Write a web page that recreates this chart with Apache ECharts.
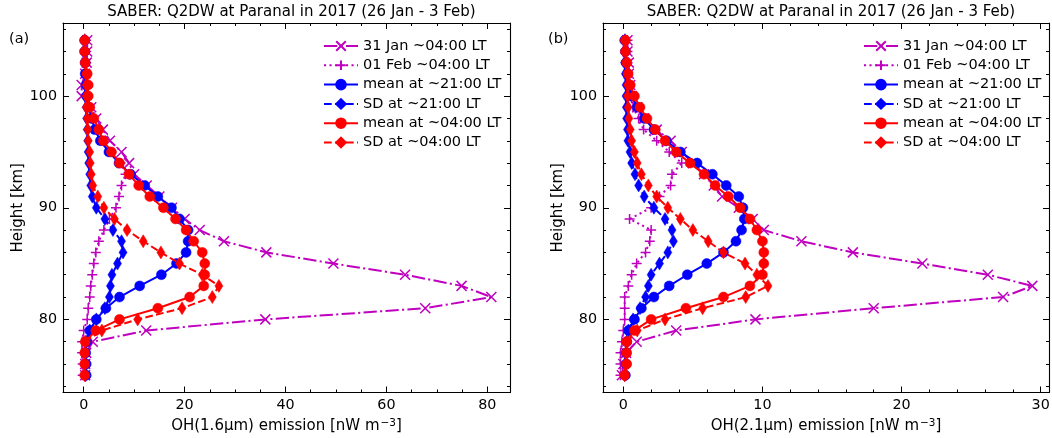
<!DOCTYPE html>
<html><head><meta charset="utf-8">
<script src="https://cdn.jsdelivr.net/npm/echarts@6/dist/echarts.min.js"></script>
<style>html,body{margin:0;padding:0;background:#fff;width:1052px;height:438px;overflow:hidden}#c{position:absolute;left:0;top:0;width:1052px;height:438px}</style>
</head><body><div id="c"></div>
<script>
const heights = [75,76,77,78,79,80,81,82,83,84,85,86,87,88,89,90,91,92,93,94,95,96,97,98,99,100,101,102,103,104,105];

// Panel (a) OH(1.6um)
const aJan31  = [0.3,0.3,0.5,1.8,12.4,36.0,67.7,80.8,74.9,63.7,49.5,36.2,27.8,23.0,20.0,17.5,15.0,12.5,10.0,9.0,7.5,5.2,3.8,2.5,1.5,-0.4,-0.4,0.3,0.6,0.7,0.7];
const aFeb01  = [-0.2,-0.2,-0.3,-0.3,0.0,0.7,0.9,1.2,1.4,1.7,2.0,2.4,3.0,4.0,5.1,6.4,7.0,7.5,8.3,7.3,5.5,3.6,2.5,1.8,1.2,0.8,0.6,0.5,0.5,0.5,0.5];
const aMean21 = [0.5,0.5,0.4,0.6,1.2,2.5,4.4,7.1,11.1,15.4,18.4,20.3,20.7,20.7,19.0,17.4,14.7,12.1,9.3,7.0,5.0,3.3,2.2,1.6,1.0,0.6,0.5,0.3,0.3,0.2,0.2];
const aSD21   = [0.4,0.4,0.4,0.5,1.2,2.5,4.2,5.1,5.3,5.6,6.7,7.8,7.5,5.8,4.2,2.5,1.7,1.4,1.2,1.0,0.9,0.8,0.7,0.6,0.5,0.3,0.3,0.3,0.2,0.2,0.2];
const aMean04 = [0.2,0.2,0.2,0.3,2.4,7.1,14.7,21.0,23.8,24.0,24.0,23.5,21.8,20.3,18.2,15.8,13.1,10.9,9.0,7.1,5.5,3.9,3.0,2.0,1.2,0.9,0.9,0.7,0.3,0.2,0.2];
const aSD04   = [0.2,0.2,0.2,0.3,3.6,10.7,19.5,25.5,26.8,23.5,19.0,15.3,11.8,8.6,6.1,4.0,2.8,1.8,1.5,1.3,1.2,0.9,0.8,0.7,0.5,0.5,0.5,0.4,0.3,0.2,0.2];

// Panel (b) OH(2.1um)
const bJan31  = [-0.1,0.0,0.2,0.96,3.8,9.5,18.0,27.3,29.4,26.2,21.5,16.5,12.8,10.1,9.3,8.3,7.1,6.5,5.8,5.0,4.2,3.4,2.4,1.5,1.0,0.6,0.5,0.4,0.4,0.3,0.3];
const bFeb01  = [-0.2,-0.2,-0.2,-0.1,0.0,0.1,0.1,0.1,0.36,0.6,0.96,1.6,1.9,2.0,0.45,2.0,2.6,3.4,3.5,4.2,3.3,2.4,1.46,1.1,0.7,0.5,0.4,0.3,0.3,0.3,0.3];
const bMean21 = [0.15,0.2,0.2,0.25,0.36,0.8,1.3,2.2,3.3,4.6,6.0,7.2,8.1,8.5,8.7,8.6,8.3,7.4,6.4,5.3,4.1,3.1,2.2,1.5,1.0,0.6,0.4,0.3,0.2,0.15,0.1];
const bSD21   = [0.1,0.15,0.2,0.25,0.36,0.7,1.2,1.6,1.8,2.0,2.6,3.2,3.6,3.5,3.0,2.2,1.5,1.1,0.84,0.6,0.48,0.33,0.3,0.24,0.22,0.2,0.2,0.15,0.1,0.1,0.1];
const bMean04 = [0.1,0.24,0.24,0.24,0.8,2.0,4.5,7.2,9.1,10.0,10.1,10.1,10.0,9.6,9.1,8.4,7.55,6.6,5.8,4.8,3.8,3.0,2.3,1.7,1.2,0.8,0.5,0.35,0.25,0.15,0.15];
const bSD04   = [0.1,0.2,0.2,0.3,1.0,3.0,5.7,8.8,10.4,9.6,8.75,7.2,6.1,5.0,4.1,3.2,2.4,1.8,1.3,1.0,0.8,0.6,0.5,0.4,0.35,0.3,0.3,0.25,0.2,0.15,0.15];

const seriesNames = ['31 Jan ~04:00 LT','01 Feb ~04:00 LT','mean at ~21:00 LT','SD at ~21:00 LT','mean at ~04:00 LT','SD at ~04:00 LT'];
const titleText = 'SABER: Q2DW at Paranal in 2017 (26 Jan - 3 Feb)';
const panelLabels = ['(a)','(b)'];
const xNames = ['OH(1.6\u00b5m) emission [nW m{sup|\u22123}]','OH(2.1\u00b5m) emission [nW m{sup|\u22123}]'];
const yName = 'Height [km]';

const yMajor = [80,90,100];
const yMinor = [74,76,78,82,84,86,88,92,94,96,98,102,104,106];
const aXMajor = [0,20,40,60,80];
const aXMinor = [5,10,15,25,30,35,45,50,55,65,70,75];
const bXMajor = [0,10,20,30];
const bXMinor = [2,4,6,8,12,14,16,18,22,24,26,28];

const M = '#bf00bf', B = '#0000ff', R = '#ff0000';
const FONT = 'DejaVu Sans';
const lw = 2;

const rects = [
  {left:63, top:23, width:447, height:369.5},
  {left:603, top:23, width:446, height:369.5}
];
const xRanges = [[-4.1,84.5],[-1.46,30.6]];
const yRange = [73.45,106.55];
const xTicks = [[aXMajor,aXMinor],[bXMajor,bXMinor]];

// two grids per panel: main (major ticks, data) and overlay (minor ticks)
const grids = [];
rects.forEach(r => {
  for (let k=0;k<2;k++) grids.push(Object.assign({containLabel:false, outerBoundsMode:'none'}, r));
});

const xAxes = [], yAxes = [];
const lineAx = {show:true, onZero:false, lineStyle:{color:'#000', width:1.1}};
const noLine = {show:false, onZero:false};
const tick = (vals, len) => ({show:true, inside:true, length:len, customValues:vals, lineStyle:{color:'#000', width:1}});
const txt = {color:'#000', fontFamily:FONT, fontSize:14.3};
const nameTxt = {color:'#000', fontFamily:FONT, fontSize:15, lineHeight:18,
  rich:{sup:{fontFamily:FONT, fontSize:10.5, color:'#000', verticalAlign:'top', lineHeight:18, padding:[0,0,7,1]}}};
for (let g=0; g<2; g++){
  const [mn,mx] = xRanges[g];
  const [maj,mnr] = xTicks[g];
  const gm = 2*g, go = 2*g+1;
  const xb = (gi) => ({type:'value', gridIndex:gi, min:mn, max:mx, splitLine:{show:false}});
  xAxes.push(Object.assign(xb(gm), {position:'bottom', axisLine:lineAx, axisTick:tick(maj,6),
    axisLabel:Object.assign({show:true, customValues:maj, margin:6}, txt),
    name:xNames[g], nameLocation:'middle', nameGap:24, nameTextStyle:nameTxt}));
  xAxes.push(Object.assign(xb(gm), {position:'top', axisLine:lineAx, axisTick:tick(maj,6), axisLabel:{show:false}}));
  xAxes.push(Object.assign(xb(go), {position:'bottom', axisLine:noLine, axisTick:tick(mnr,3), axisLabel:{show:false}}));
  xAxes.push(Object.assign(xb(go), {position:'top', axisLine:noLine, axisTick:tick(mnr,3), axisLabel:{show:false}}));

  const yb = (gi) => ({type:'value', gridIndex:gi, min:yRange[0], max:yRange[1], splitLine:{show:false}});
  yAxes.push(Object.assign(yb(gm), {position:'left', axisLine:lineAx, axisTick:tick(yMajor,6),
    axisLabel:Object.assign({show:true, customValues:yMajor, margin:6}, txt),
    name:yName, nameLocation:'middle', nameRotate:90, nameGap:37, nameTextStyle:{color:'#000', fontFamily:FONT, fontSize:15}}));
  yAxes.push(Object.assign(yb(gm), {position:'right', axisLine:lineAx, axisTick:tick(yMajor,6), axisLabel:{show:false}}));
  yAxes.push(Object.assign(yb(go), {position:'left', axisLine:noLine, axisTick:tick(yMinor,3), axisLabel:{show:false}}));
  yAxes.push(Object.assign(yb(go), {position:'right', axisLine:noLine, axisTick:tick(yMinor,3), axisLabel:{show:false}}));
}

const xPath = 'path://M0,0L10,10M10,0L0,10';
const plusPath = 'path://M5,0L5,10M0,5L10,5';
const styles = [
  {color:M, type:[13.3,3.3,2.1,3.3], symbol:xPath, size:10, stroke:true},
  {color:M, type:[2.1,3.4], symbol:plusPath, size:10, stroke:true},
  {color:B, type:'solid', symbol:'circle', size:10},
  {color:B, type:[7.7,3.3], symbol:'diamond', size:[8,13]},
  {color:R, type:'solid', symbol:'circle', size:10},
  {color:R, type:[7.7,3.3], symbol:'diamond', size:[8,13]}
];
const panelData = [[aJan31,aFeb01,aMean21,aSD21,aMean04,aSD04],[bJan31,bFeb01,bMean21,bSD21,bMean04,bSD04]];

const series = [];
for (let g=0; g<2; g++){
  panelData[g].forEach((vals,k)=>{
    const s = styles[k];
    series.push({
      type:'line', name:seriesNames[k], xAxisIndex:g*4, yAxisIndex:g*4,
      data: vals.map((v,i)=>[v, heights[i]]),
      symbol:s.symbol, symbolSize:s.size, showSymbol:true, symbolKeepAspect:false,
      lineStyle:{color:s.color, width:lw, type:s.type},
      itemStyle: s.stroke ? {color:'rgba(0,0,0,0)', borderColor:s.color, borderWidth:1.5}
                          : {color:s.color, borderColor:s.color, borderWidth:0.5},
      emphasis:{disabled:true}, z: 2+k
    });
  });
}

const legends = [318, 858].map(l => ({
  data: seriesNames, orient:'vertical', left:l, top:33, itemWidth:34, itemHeight:12, itemGap:3.3,
  textStyle:{color:'#000', fontFamily:FONT, fontSize:14.5, lineHeight:16}, selectedMode:false
}));

const titles = [];
for (let g=0; g<2; g++){
  const cx = rects[g].left + rects[g].width/2;
  titles.push({text:titleText, left:cx, top:0, textAlign:'center',
    textStyle:{color:'#000', fontFamily:FONT, fontSize:15, fontWeight:'normal'}});
  titles.push({text:panelLabels[g], left:g===0?4:543, top:27,
    textStyle:{color:'#000', fontFamily:FONT, fontSize:14.5, fontWeight:'normal'}});
}

const chart = echarts.init(document.getElementById('c'), null, {renderer:'canvas'});
chart.setOption({
  animation:false, backgroundColor:'#fff',
  title: titles, legend: legends, grid: grids,
  xAxis: xAxes, yAxis: yAxes, series: series
});
</script></body></html>
